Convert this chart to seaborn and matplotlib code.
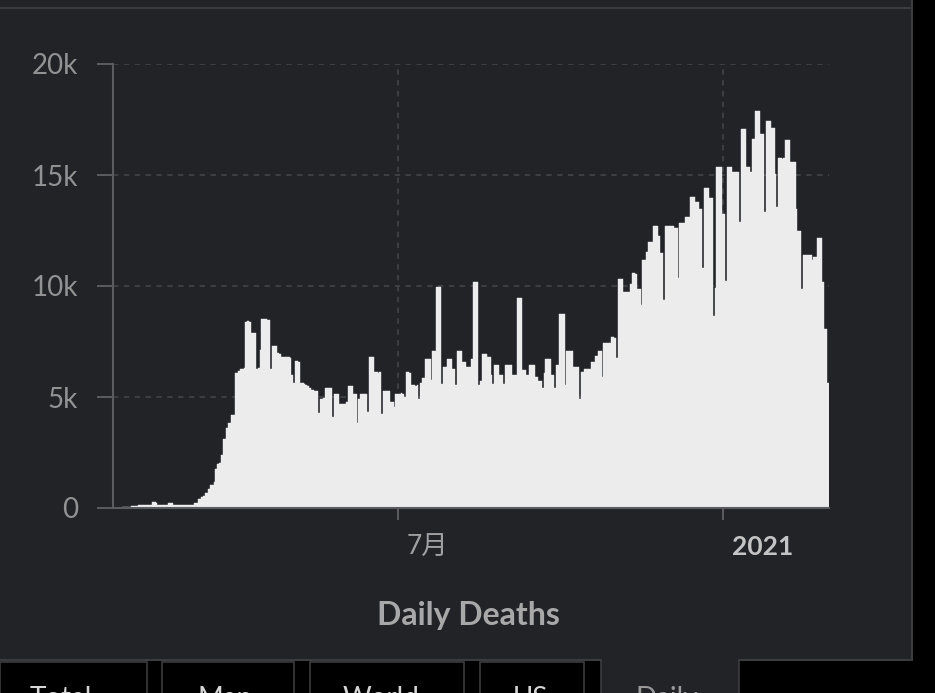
import numpy as np
import pandas as pd
import matplotlib
matplotlib.use("Agg")
import matplotlib.pyplot as plt
from matplotlib.patches import Rectangle
import seaborn as sns

# ---------- data (one value per day) ----------
start_date = "2020-01-22"

deaths = [
    17, 1, 8, 16, 14, 26, 26, 38, 43, 46,
    100, 105, 110, 110, 115, 120, 120, 125, 130, 120,
    125, 130, 250, 250, 245, 140, 135, 135, 130, 135,
    135, 240, 240, 235, 130, 125, 120, 125, 130, 130,
    135, 140, 135, 140, 145, 150, 220, 230, 390, 400,
    510, 520, 660, 670, 840, 1040, 1050, 1190, 1760, 2000,
    2010, 2390, 3090, 3100, 3590, 3840, 3850, 4190, 4200, 6100,
    6100, 6150, 6250, 6250, 6300, 8400, 8420, 8380, 7900, 7900,
    7880, 6250, 6300, 7100, 8500, 8520, 8500, 8480, 8450, 6250,
    7300, 7300, 7280, 6970, 6950, 6800, 6800, 6790, 6800, 6780,
    6760, 6000, 5650, 6600, 6600, 6580, 5650, 5620, 5600, 5550,
    5480, 5420, 5300, 5300, 5280, 5270, 4300, 4900, 4900, 4950,
    5400, 5400, 5390, 5390, 4110, 5140, 5140, 5130, 4680, 4680,
    4700, 4700, 4780, 5510, 5510, 5500, 5140, 5140, 3840, 4910,
    5140, 5140, 5130, 5140, 4310, 6820, 6820, 6800, 6110, 6110,
    6100, 6110, 4220, 5260, 5260, 5250, 5260, 4790, 4790, 4560,
    5150, 5150, 5150, 5160, 5150, 5000, 6110, 6110, 6100, 5520,
    5520, 5510, 5520, 4910, 5650, 5850, 5850, 6710, 6710, 6700,
    5770, 7090, 7090, 9970, 9970, 9960, 5600, 6340, 6340, 6710,
    6710, 6700, 6260, 6260, 5530, 7070, 7070, 7060, 6590, 6590,
    6360, 6360, 6350, 6710, 10190, 10190, 10180, 5530, 5700, 6940,
    6940, 6930, 6820, 6820, 5990, 5600, 6440, 6440, 6430, 5990,
    5990, 5600, 6440, 6440, 6430, 6440, 5990, 5990, 5980, 9470,
    9470, 9460, 6220, 6220, 6000, 6000, 6440, 6440, 6430, 5900,
    5900, 5730, 5730, 5420, 6100, 6710, 6710, 6700, 6000, 6000,
    5420, 6440, 6440, 8740, 8740, 8730, 5530, 7070, 7070, 7060,
    7070, 6360, 6360, 6350, 4910, 6110, 6110, 6260, 6260, 6250,
    6260, 6590, 6590, 6850, 6850, 7070, 7070, 5900, 7440, 7440,
    7430, 7440, 7690, 7690, 7680, 6740, 10320, 10320, 10310, 9740,
    9740, 9730, 9740, 10090, 10570, 10570, 10560, 9850, 9850, 9140,
    11170, 11170, 11550, 12000, 12000, 11990, 12720, 12720, 12710, 12250,
    11500, 11500, 9370, 12720, 12720, 12710, 12720, 12720, 12600, 12600,
    10350, 12850, 12850, 12840, 13100, 13100, 13090, 14020, 14020, 14010,
    13800, 13800, 13450, 13450, 10830, 14420, 14420, 14410, 13950, 13950,
    8660, 9900, 15380, 15380, 15370, 13230, 13230, 10230, 15380, 15380,
    15370, 15150, 15150, 15140, 15150, 12870, 17070, 17070, 17060, 15380,
    15380, 15150, 16600, 16600, 17900, 17900, 17890, 16830, 16830, 13350,
    17430, 17430, 17420, 17100, 17100, 15030, 13570, 15750, 15750, 15740,
    15750, 16580, 16580, 16570, 15600, 15600, 15590, 13450, 12500, 12500,
    9850, 11400, 11400, 11390, 11400, 11400, 11170, 11300, 11300, 12150,
    12150, 12140, 10190, 8050, 8050, 5650,
]

y_ticks = [0, 5000, 10000, 15000, 20000]
y_tick_labels = ["0", "5k", "10k", "15k", "20k"]
x_tick_dates = ["2020-07-01", "2021-01-01"]
x_tick_labels = ["7月", "2021"]
tab_labels = ["Total", "Map", "World", "US", "Daily"]

dates = pd.date_range(start_date, periods=len(deaths), freq="D")
df = pd.DataFrame({"day": np.arange(len(deaths)), "deaths": deaths})
tick_pos = [int(np.where(dates == pd.Timestamp(d))[0][0]) for d in x_tick_dates]

# ---------- style ----------
sns.set_theme(style="dark")
plt.rcParams["font.family"] = ["Lato", "Noto Sans CJK JP", "DejaVu Sans"]

W, H = 935, 693
panel = "#222327"
border = "#3c3c3f"
bar_color = "#ececec"

fig = plt.figure(figsize=(W / 100, H / 100), dpi=100, facecolor="black")


def px_rect(x0, y0, x1, y1, **kw):
    return Rectangle((x0 / W, 1 - y1 / H), (x1 - x0) / W, (y1 - y0) / H,
                     transform=fig.transFigure, zorder=0, **kw)


# card background + top separator
fig.patches.append(px_rect(-2, -2, 912, 660, facecolor=panel, edgecolor=border, lw=1.5))
fig.patches.append(px_rect(-2, 7, 912, 8.5, facecolor=border, edgecolor="none"))

# tab strip at the bottom (labels are cut by the window edge, as in the source)
tabs = [(0, 147), (162, 294), (310, 464), (480, 584)]
for x0, x1 in tabs:
    fig.patches.append(px_rect(x0, 662, x1, 705, facecolor="black", edgecolor=border, lw=1.2))
fig.patches.append(px_rect(601, 661, 739, 705, facecolor=panel, edgecolor=border, lw=1.2))
fig.patches.append(px_rect(602, 657, 738, 664, facecolor=panel, edgecolor="none"))
tab_x = [30, 197, 343, 513, 635]
for lbl, tx in zip(tab_labels, tab_x):
    fig.text(tx / W, 1 - 686 / H, lbl, ha="left", va="top", fontsize=20,
             color="#d6d6d6" if lbl != "Daily" else "#9a9a9a")

# ---------- chart ----------
ax = fig.add_axes([113.2 / W, 1 - 508 / H, (829.2 - 113.2) / W, (508 - 64) / H])
ax.set_zorder(5)
ax.set_facecolor("none")
ax.patch.set_alpha(0)

sns.barplot(data=df, x="day", y="deaths", color=bar_color, saturation=1,
            width=1.0, native_scale=True, errorbar=None,
            edgecolor=bar_color, linewidth=0.3, ax=ax)

ax.set_xlim(-0.5, len(deaths) - 0.5)
ax.set_ylim(0, 20000)
ax.set_axisbelow(True)

ax.set_yticks(y_ticks)
ax.set_yticklabels(y_tick_labels)
ax.set_xticks(tick_pos)
ax.set_xticklabels([])

ax.grid(True, axis="both", linestyle=(0, (3, 3)), color="#404146", lw=1.3)

for side in ["top", "right"]:
    ax.spines[side].set_visible(False)
for side in ["left", "bottom"]:
    ax.spines[side].set_visible(True)
    ax.spines[side].set_color("#5c5c60")
    ax.spines[side].set_linewidth(1.5)

ax.tick_params(axis="y", length=11.3, width=1.4, color="#5c5c60",
               labelcolor="#929292", labelsize=20, pad=14, left=True)
ax.tick_params(axis="x", length=8.6, width=1.4, color="#5c5c60", bottom=True)
ax.set_xlabel("")
ax.set_ylabel("")

for pos, lbl in zip(tick_pos, x_tick_labels):
    bold = lbl == "2021"
    ax.annotate(lbl, xy=(pos, 0), xycoords=("data", "axes fraction"),
                xytext=(6.5, -28), textcoords="offset points",
                ha="left", va="center", fontsize=19,
                fontweight="bold" if bold else "normal",
                color="#c4c4c4" if bold else "#a0a0a0")

fig.text(468 / W, 1 - 615 / H, "Daily Deaths", ha="center", va="center",
         fontsize=23, fontweight="bold", color="#a8a8a8")

fig.savefig("out.png", dpi=100, facecolor=fig.get_facecolor())
